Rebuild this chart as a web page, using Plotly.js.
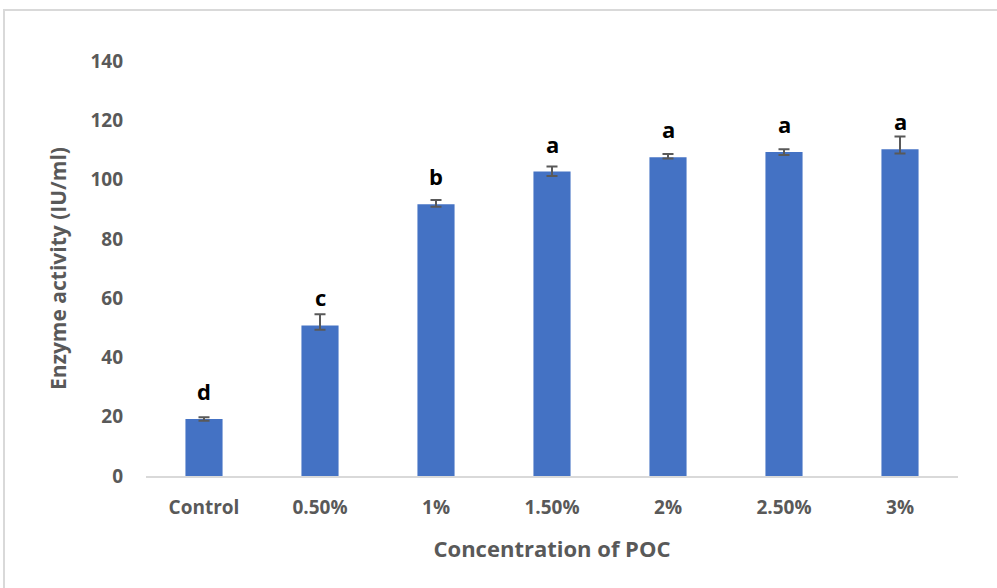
<!DOCTYPE html>
<html>
<head>
<meta charset="utf-8">
<script src="https://cdn.plot.ly/plotly-3.0.1.min.js"></script>
<style>
  html, body { margin: 0; padding: 0; background: #ffffff; }
  #frame {
    position: absolute; left: 3px; top: 9px; width: 1100px; height: 700px;
    border-top: 2px solid #d9d9d9; border-left: 2px solid #d9d9d9;
  }
  #chart { position: absolute; left: 0; top: 0; width: 997px; height: 588px; }
</style>
</head>
<body>
<div id="frame"></div>
<div id="chart"></div>
<script>
// Enzyme activity at each POC concentration, with error bars and significance letters
const categories = ["Control", "0.50%", "1%", "1.50%", "2%", "2.50%", "3%"];
const activity   = [19.2, 50.8, 91.7, 102.7, 107.5, 109.3, 110.2];
const errorPlus  = [0.6, 3.8, 1.4, 1.7, 1.1, 0.9, 4.3];
const errorMinus = [0.6, 1.5, 0.9, 1.5, 0.4, 1.0, 1.4];
const letters    = ["d", "c", "b", "a", "a", "a", "a"];
const yTicks     = [0, 20, 40, 60, 80, 100, 120, 140];

const FONT = '"Open Sans", "Noto Sans", sans-serif';
const GREY = '#595959';

const trace = {
  type: 'bar',
  x: categories,
  y: activity,
  width: 0.32,
  marker: { color: '#4472C4', line: { width: 0 } },
  error_y: {
    type: 'data',
    symmetric: false,
    array: errorPlus,
    arrayminus: errorMinus,
    color: GREY,
    thickness: 2,
    width: 5.5
  },
  hoverinfo: 'x+y'
};

const annotations = categories.map((c, i) => ({
  x: c,
  y: activity[i],
  xref: 'x',
  yref: 'y',
  text: letters[i],
  showarrow: false,
  yanchor: 'bottom',
  yshift: 11,
  font: { family: FONT, size: 22, color: '#000000', weight: 'bold' }
}));

const layout = {
  width: 997,
  height: 588,
  margin: { l: 146, r: 39, t: 61, b: 112 },
  paper_bgcolor: 'rgba(0,0,0,0)',
  plot_bgcolor: 'rgba(0,0,0,0)',
  showlegend: false,
  xaxis: {
    type: 'category',
    showline: true,
    linecolor: '#d9d9d9',
    linewidth: 1.5,
    showgrid: false,
    ticks: '',
    ticklabelstandoff: 14,
    tickfont: { family: FONT, size: 19, color: GREY, weight: 'bold' },
    title: {
      text: 'Concentration of POC',
      standoff: 22,
      font: { family: FONT, size: 22, color: GREY, weight: 'bold' }
    }
  },
  yaxis: {
    range: [0, 140],
    tickvals: yTicks,
    showline: false,
    showgrid: false,
    zeroline: false,
    ticks: '',
    ticklabelstandoff: 22,
    tickfont: { family: FONT, size: 19, color: GREY, weight: 'bold' },
    title: {
      text: 'Enzyme activity (IU/ml)',
      standoff: 18,
      font: { family: FONT, size: 21, color: GREY, weight: 'bold' }
    }
  },
  annotations: annotations
};

Plotly.newPlot('chart', [trace], layout, { displayModeBar: false, staticPlot: true });
</script>
</body>
</html>
